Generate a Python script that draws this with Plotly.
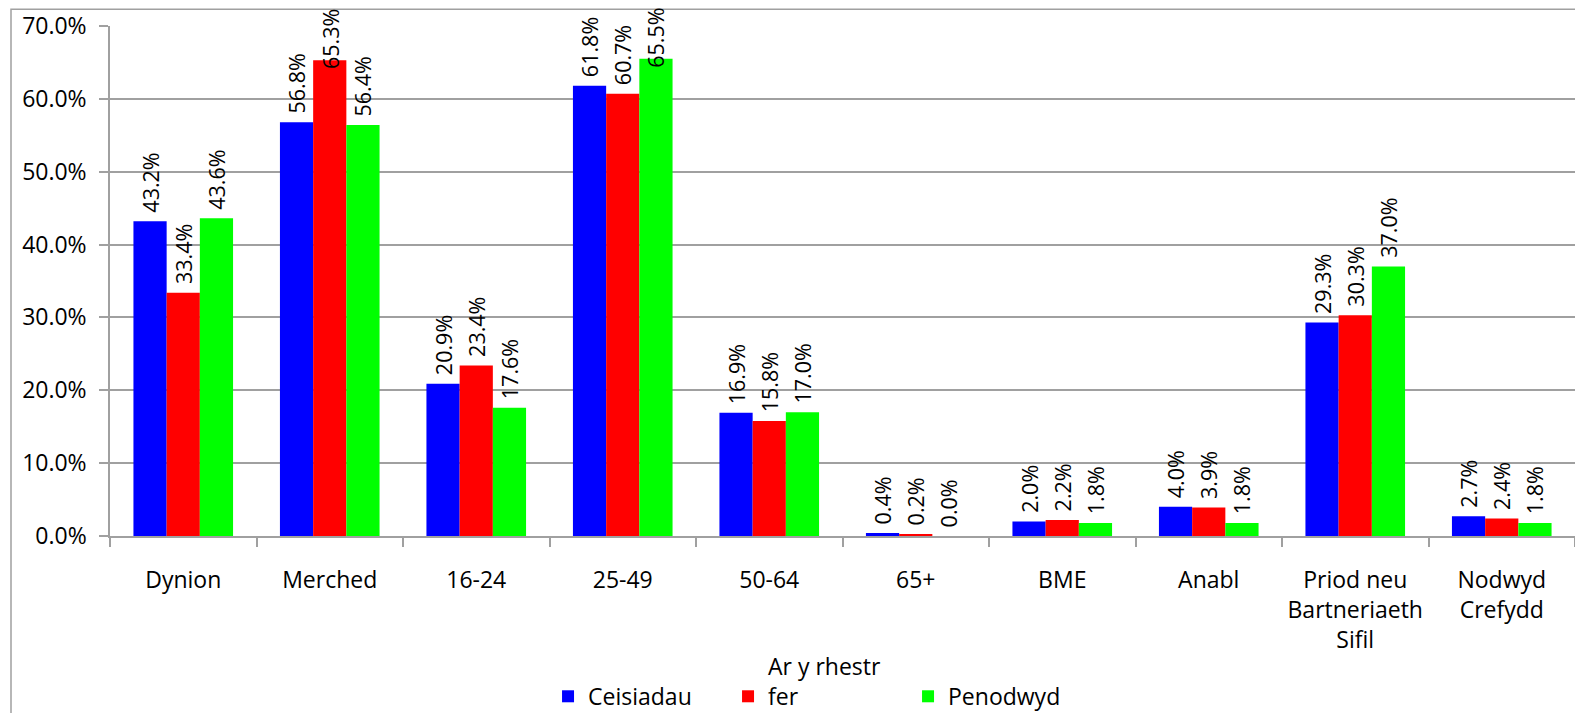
import plotly.graph_objects as go

categories = ["Dynion", "Merched", "16-24", "25-49", "50-64", "65+", "BME", "Anabl",
              "Priod neu<br>Bartneriaeth<br>Sifil", "Nodwyd<br>Crefydd"]
ceisiadau = [43.2, 56.8, 20.9, 61.8, 16.9, 0.4, 2.0, 4.0, 29.3, 2.7]
rhestr_fer = [33.4, 65.3, 23.4, 60.7, 15.8, 0.2, 2.2, 3.9, 30.3, 2.4]
penodwyd = [43.6, 56.4, 17.6, 65.5, 17.0, 0.0, 1.8, 1.8, 37.0, 1.8]
y_ticks = [0, 10, 20, 30, 40, 50, 60, 70]

series_names = [" <br>Ceisiadau", "Ar y rhestr<br>fer", " <br>Penodwyd"]
series_values = [ceisiadau, rhestr_fer, penodwyd]
series_colors = ["#0000FF", "#FF0000", "#00FF00"]

FONT = "Open Sans"
# page body keeps its default 8px margin, so the figure is 16px smaller than the window
W, H = 1567, 705
ML, MR, MT, MB = 102, 0, 17.5, 177
BARGAP = 0.32
LABEL_SIZE = 21.5
Y_MAX = 70
FIT_LIMIT = 63  # labels above this value are pulled down into the chart like the original

plot_w = W - ML - MR
plot_h = H - MT - MB
cat_w = plot_w / len(categories)
bar_w = cat_w * (1 - BARGAP) / len(series_values)

fig = go.Figure()
annotations = []
for i, (name, vals, col) in enumerate(zip(series_names, series_values, series_colors)):
    labels = [f"{v:.1f}%" for v in vals]
    fig.add_trace(go.Bar(
        x=categories, y=vals, name=name, marker=dict(color=col, line=dict(width=0)),
        text=["\u00a0" + lab if v <= FIT_LIMIT else "" for lab, v in zip(labels, vals)],
        textposition="outside", textangle=-90,
        textfont=dict(family=FONT, size=LABEL_SIZE, color="black"),
        cliponaxis=False, constraintext="none",
    ))
    for cat, lab, v in zip(categories, labels, vals):
        if v > FIT_LIMIT:
            annotations.append(dict(
                x=cat, y=v, xref="x", yref="y", text=lab, showarrow=False,
                textangle=-90, xanchor="center", yanchor="bottom",
                xshift=(i - 1) * bar_w, yshift=-11,
                font=dict(family=FONT, size=LABEL_SIZE, color="black"),
            ))

fig.update_layout(
    width=W, height=H,
    margin=dict(l=ML, r=MR, t=MT, b=MB, autoexpand=False),
    paper_bgcolor="white", plot_bgcolor="white",
    barmode="group", bargap=BARGAP, bargroupgap=0,
    font=dict(family=FONT, size=22, color="black"),
    showlegend=True,
    legend=dict(orientation="h", x=0.299, y=-0.2136, xanchor="left", yanchor="top",
                font=dict(family=FONT, size=23, color="black"),
                entrywidth=135, entrywidthmode="pixels", valign="bottom",
                itemclick=False, bgcolor="rgba(0,0,0,0)"),
    xaxis=dict(showgrid=False, showline=True, linecolor="#a0a0a0", linewidth=1.5,
               ticks="outside", ticklen=9, tickcolor="#a0a0a0", tickwidth=1.5,
               tickson="boundaries", ticklabelstandoff=23, automargin=False,
               tickfont=dict(family=FONT, size=23, color="black")),
    yaxis=dict(range=[0, Y_MAX], tickvals=y_ticks, ticktext=[f"{v:.1f}%" for v in y_ticks],
               showgrid=True, gridcolor="#a0a0a0", gridwidth=1.5,
               showline=True, linecolor="#a0a0a0", linewidth=1.5,
               ticks="outside", ticklen=9, tickcolor="#a0a0a0", tickwidth=1.5,
               ticklabelstandoff=8, zeroline=False, automargin=False,
               tickfont=dict(family=FONT, size=23, color="black")),
    annotations=annotations,
    shapes=[dict(type="rect", xref="paper", yref="paper",
                 x0=(3 - ML) / plot_w, x1=1.2, y0=-1.0, y1=1 + (MT - 0.75) / plot_h,
                 line=dict(color="#a0a0a0", width=1.5), fillcolor="rgba(0,0,0,0)", layer="below")],
)

fig.write_html("out.html", config={"displayModeBar": False})
